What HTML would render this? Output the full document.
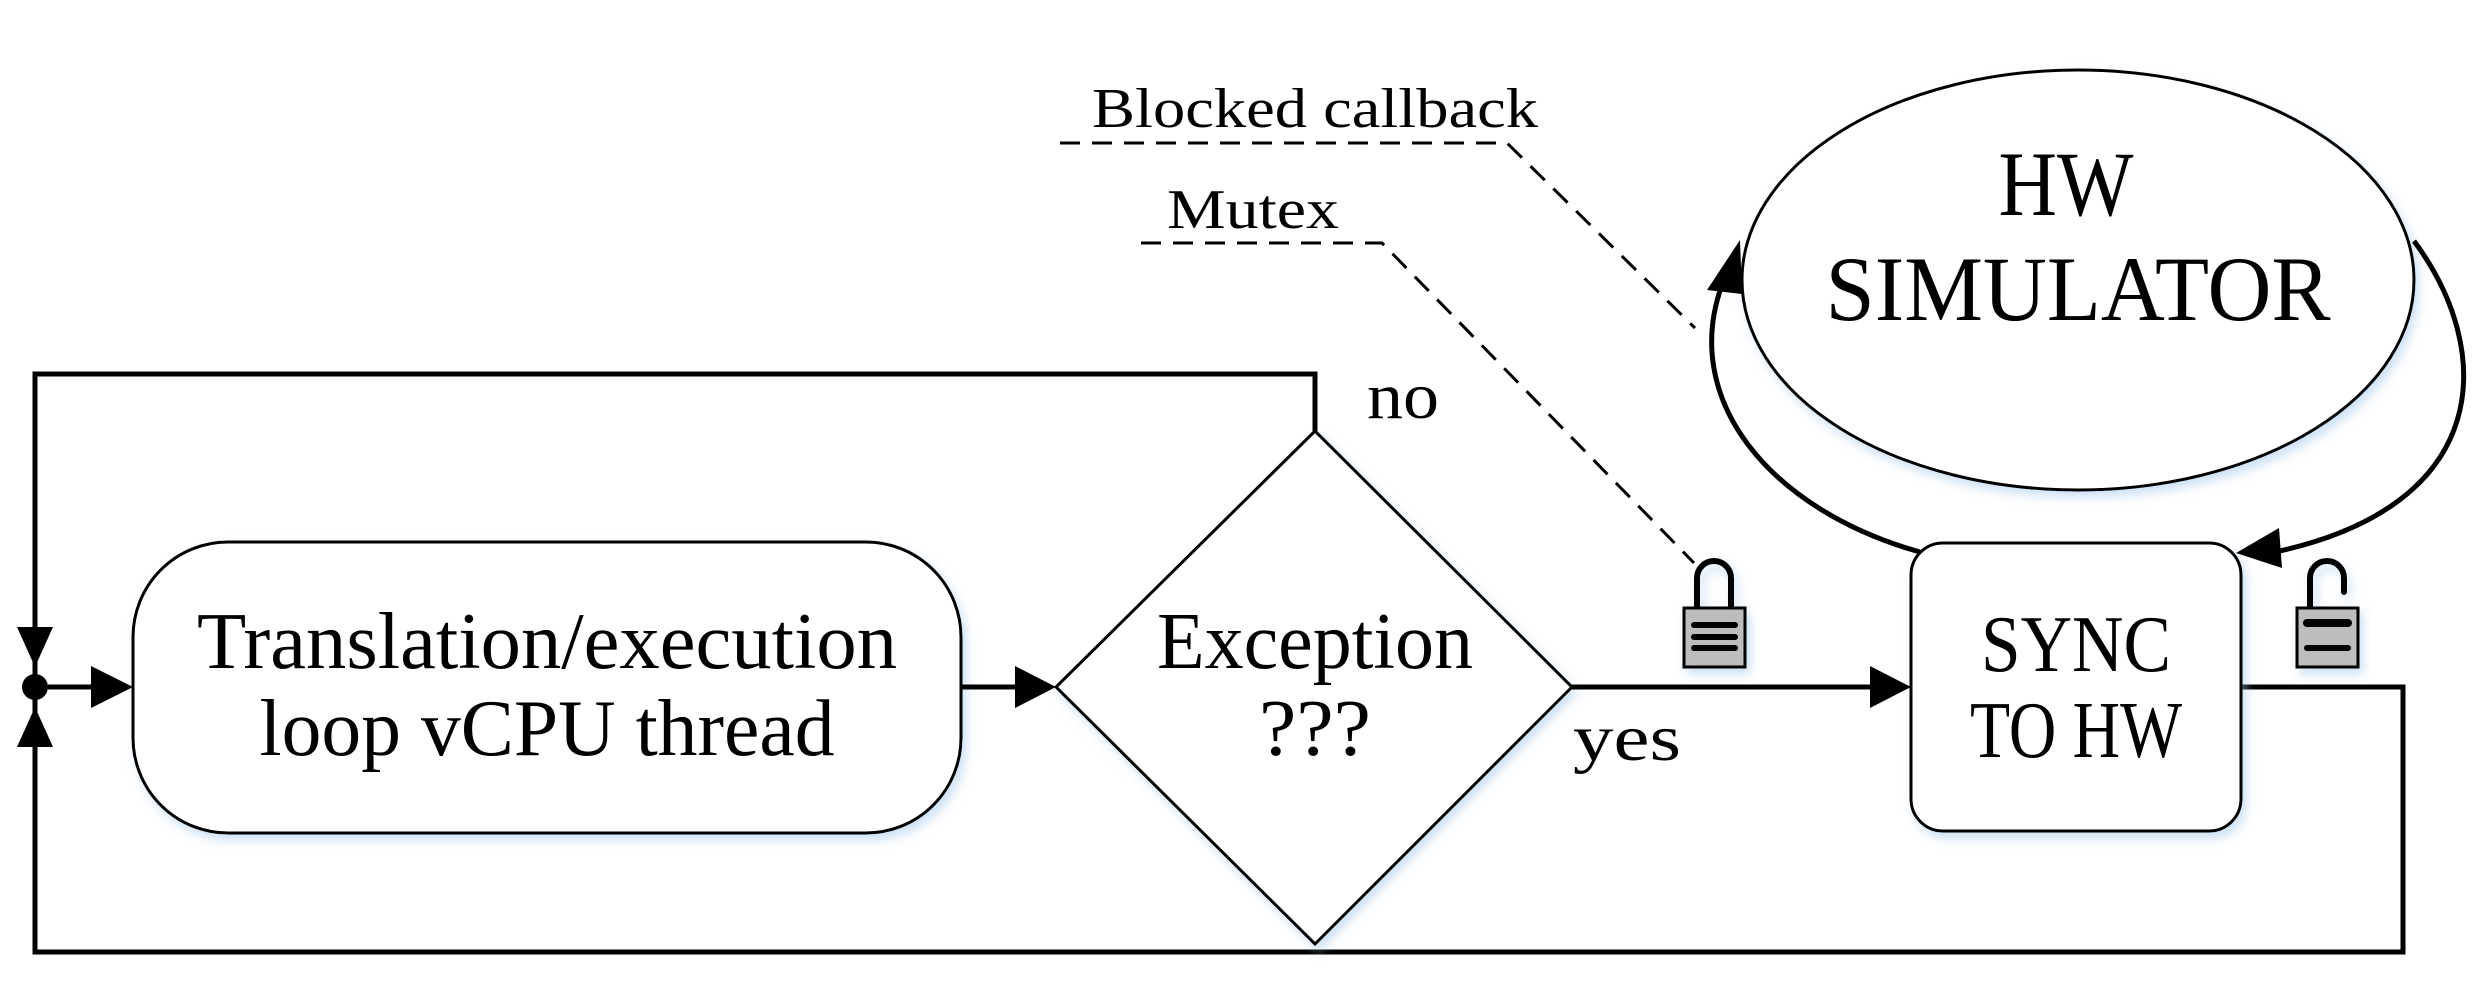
<!DOCTYPE html>
<html><head><meta charset="utf-8"><style>
html,body{margin:0;padding:0;background:#fff;}
svg{display:block;}
text{font-family:"Liberation Serif",serif;fill:#000;}
</style></head><body>
<svg width="2487" height="981" viewBox="0 0 2487 981" xmlns="http://www.w3.org/2000/svg">
<defs>
<filter id="sh" x="-10%" y="-10%" width="130%" height="130%"><feDropShadow dx="4" dy="6" stdDeviation="5" flood-color="#9cc3ea" flood-opacity="0.5"/></filter>
</defs>
<polyline points="35,687 35,374 1315,374 1315,431" fill="none" stroke="#000" stroke-width="5"/>
<polyline points="35,687 35,952 2403,952 2403,687 2241,687" fill="none" stroke="#000" stroke-width="5"/>
<polygon points="17,627 53,627 35,667" fill="#000"/>
<polygon points="17,747 53,747 35,707" fill="#000"/>
<circle cx="35" cy="687" r="13" fill="#000"/>
<line x1="48" y1="687" x2="95" y2="687" stroke="#000" stroke-width="5"/>
<polygon points="91,666 91,708 133,687" fill="#000"/>
<rect x="133" y="542" width="828" height="291" rx="95" ry="95" fill="#fff" stroke="#000" stroke-width="3" filter="url(#sh)"/>
<text x="547" y="668" font-size="80" text-anchor="middle" textLength="700" lengthAdjust="spacingAndGlyphs">Translation/execution</text>
<text x="547" y="755" font-size="80" text-anchor="middle" textLength="575" lengthAdjust="spacingAndGlyphs">loop vCPU thread</text>
<line x1="961" y1="687" x2="1020" y2="687" stroke="#000" stroke-width="5"/>
<polygon points="1015,666 1015,708 1056,687" fill="#000"/>
<polygon points="1315,431 1572,687 1315,944 1056,687" fill="#fff" stroke="#000" stroke-width="3" filter="url(#sh)"/>
<text x="1315" y="668" font-size="80" text-anchor="middle" textLength="316" lengthAdjust="spacingAndGlyphs">Exception</text>
<text x="1315" y="755" font-size="80" text-anchor="middle" textLength="112" lengthAdjust="spacingAndGlyphs">???</text>
<text x="1367" y="418" font-size="66" textLength="72" lengthAdjust="spacingAndGlyphs">no</text>
<text x="1573" y="760" font-size="66" textLength="108" lengthAdjust="spacingAndGlyphs">yes</text>
<line x1="1572" y1="687" x2="1875" y2="687" stroke="#000" stroke-width="5"/>
<polygon points="1870,666 1870,708 1911,687" fill="#000"/>
<rect x="1911" y="543" width="330" height="288" rx="32" ry="32" fill="#fff" stroke="#000" stroke-width="3" filter="url(#sh)"/>
<text x="2076" y="671" font-size="80" text-anchor="middle" textLength="190" lengthAdjust="spacingAndGlyphs">SYNC</text>
<text x="2076" y="757" font-size="80" text-anchor="middle" textLength="212" lengthAdjust="spacingAndGlyphs">TO HW</text>
<ellipse cx="2078" cy="280" rx="336" ry="210" fill="#fff" stroke="#000" stroke-width="3" filter="url(#sh)"/>
<text x="2066" y="215" font-size="92" text-anchor="middle" textLength="135" lengthAdjust="spacingAndGlyphs">HW</text>
<text x="2078" y="320" font-size="92" text-anchor="middle" textLength="505" lengthAdjust="spacingAndGlyphs">SIMULATOR</text>
<path d="M1920,552 C1770,510 1680,400 1722,285" fill="none" stroke="#000" stroke-width="5"/>
<polygon points="1740,240 1707,290 1742,294" fill="#000"/>
<path d="M2414,241 C2495,350 2495,505 2275,552" fill="none" stroke="#000" stroke-width="5"/>
<polygon points="2236,553 2279,528 2282,568" fill="#000"/>
<polyline points="1060,143 1507,143 1695,328" fill="none" stroke="#000" stroke-width="3" stroke-dasharray="20,12"/>
<polyline points="1141,243 1382,243 1694,563" fill="none" stroke="#000" stroke-width="3" stroke-dasharray="20,12"/>
<text x="1092" y="127" font-size="56" textLength="446" lengthAdjust="spacingAndGlyphs">Blocked callback</text>
<text x="1167" y="228" font-size="56" textLength="172" lengthAdjust="spacingAndGlyphs">Mutex</text>
<g filter="url(#sh)">
<path d="M1697,609 L1697,578 A17,17 0 0 1 1731,578 L1731,609" fill="none" stroke="#000" stroke-width="6"/>
<rect x="1684" y="608" width="61" height="59" fill="#bdbdbd" stroke="#000" stroke-width="3"/>
<line x1="1694" y1="625" x2="1735" y2="625" stroke="#000" stroke-width="6" stroke-linecap="round"/>
<line x1="1694" y1="637" x2="1735" y2="637" stroke="#000" stroke-width="6" stroke-linecap="round"/>
<line x1="1694" y1="648" x2="1735" y2="648" stroke="#000" stroke-width="6" stroke-linecap="round"/>
</g>
<g filter="url(#sh)">
<path d="M2310,609 L2310,578 A17,17 0 0 1 2344,578 L2344,592" fill="none" stroke="#000" stroke-width="6" stroke-linecap="round"/>
<rect x="2297" y="608" width="61" height="59" fill="#bdbdbd" stroke="#000" stroke-width="3"/>
<line x1="2307" y1="623" x2="2348" y2="623" stroke="#000" stroke-width="8" stroke-linecap="round"/>
<line x1="2307" y1="648" x2="2348" y2="648" stroke="#000" stroke-width="6" stroke-linecap="round"/>
</g>
</svg>
</body></html>
